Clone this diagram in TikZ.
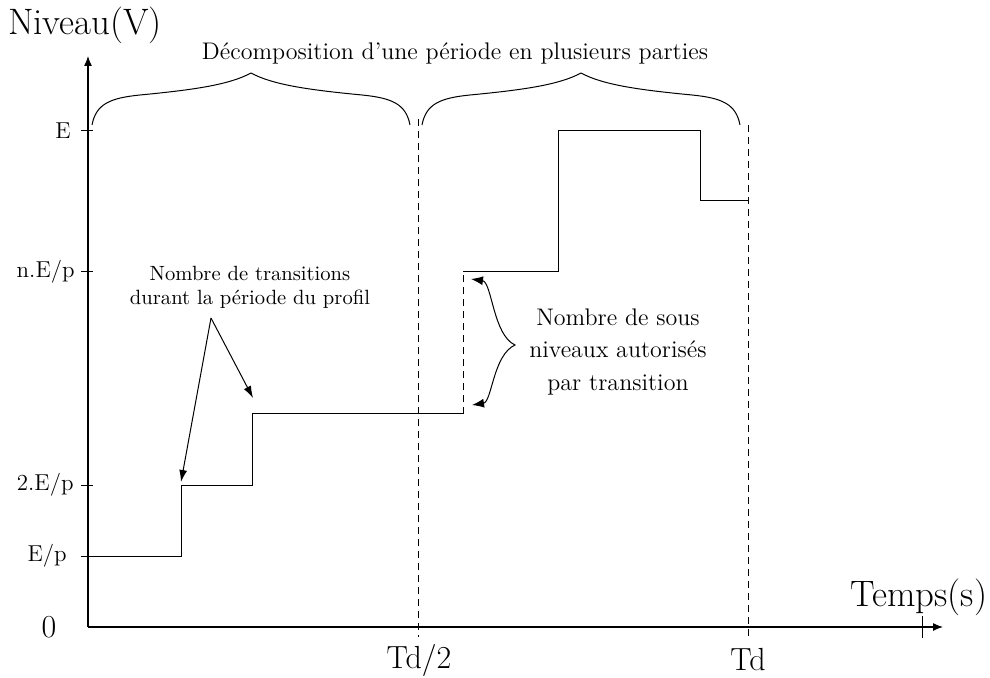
\documentclass[tikz,border=0pt]{standalone}
\usepackage{fontspec}
\usetikzlibrary{arrows.meta}
\begin{document}
\begin{tikzpicture}[x=0.5pt,y=-0.5pt,
  axis/.style={line width=0.6pt, -{Latex[length=5pt,width=4pt]}},
  wave/.style={line width=0.5pt},
  guide/.style={line width=0.5pt, dash pattern=on 3.5pt off 2.5pt},
  tickmark/.style={line width=0.5pt},
  big/.style={font=\fontsize{16}{19}\selectfont, inner sep=0pt},
  huge/.style={font=\fontsize{18.4}{22}\selectfont, inner sep=0pt},
  lvl/.style={font=\fontsize{11.5}{14}\selectfont, inner sep=0pt, anchor=east},
  note/.style={-{Latex[length=6pt,width=4pt]}, line width=0.5pt},
  bracestyle/.style={line width=0.5pt},
  halfbrace/.pic={\draw[bracestyle] (0,0) .. controls (4,-21) and (18,-27) .. (48,-30) .. controls (100,-35) and (137,-40) .. (159,-52);}
]
\useasboundingbox (0,0) rectangle (990,678);

% axes
\coordinate (O) at (88,627);
\coordinate (ytop) at (88,56);
\coordinate (xend) at (943,627);
\draw[axis] (O) -- (ytop);
\draw[axis] (O) -- (xend);
\draw[tickmark] (922,616) -- (922,638);

% axis labels
\node[huge] (ylab) at (85,25) {Niveau(V)};
\node[huge] (xlab) at (919,597) {Temps(s)};
\node[big] (zero) at (49,627) {0};
\node[big] (thalf) at (419,660) {Td/2};
\node[big] (tfull) at (748,660) {Td};

% level ticks and labels
\node[lvl] (lE) at (71,131) {E};
\node[lvl] (lnE) at (75,272) {n.E/p};
\node[lvl] (l2E) at (74,485) {2.E/p};
\node[lvl] (l1E) at (67,556) {E/p};
\draw[tickmark] (81,131) -- (93,131);
\draw[tickmark] (81,272) -- (93,272);
\draw[tickmark] (81,485) -- (93,485);
\draw[tickmark] (81,556) -- (88,556);

% dashed guides
\draw[guide] (418,119) -- (418,637);
\draw[guide] (748,125) -- (748,637);

% waveform
\draw[wave] (88,556) -- (181,556) -- (181,485) -- (252,485) -- (252,414) -- (463,414);
\draw[guide] (463,414) -- (463,272);
\draw[wave] (463,272) -- (558,272) -- (558,131) -- (700,131) -- (700,201) -- (748,201);

% braces
\pic at (92,125) {halfbrace};
\pic[xscale=-1] at (410,125) {halfbrace};
\pic at (422,125) {halfbrace};
\pic[xscale=-1] at (740,125) {halfbrace};
\node[font=\fontsize{12}{14}\selectfont, inner sep=0pt] (title) at (455,53) {Décomposition d’une période en plusieurs parties};

% left annotation
\node[font=\fontsize{10.3}{12}\selectfont, align=center, inner sep=0pt] (trans) at (250,287) {Nombre de transitions\\durant la période du profil};
\coordinate (tail) at (211,318);
\coordinate (tipA) at (181,482);
\coordinate (tipB) at (253,398);
\draw[note] (tail) -- (tipA);
\draw[note] (tail) -- (tipB);

% right annotation
\node[font=\fontsize{12}{16.25}\selectfont, align=center, inner sep=0pt] (sous) at (618,352) {Nombre de sous\\niveaux autorisés\\par transition};
\coordinate (c1) at (471,279);
\coordinate (cm) at (515,345);
\coordinate (c2) at (472,405);
\draw[line width=0.5pt, {Latex[length=6pt,width=4.5pt]}-{Latex[length=6pt,width=4.5pt]}] (c1) .. controls (492,282) and (493,335) .. (cm) .. controls (493,355) and (492,402) .. (c2);
\end{tikzpicture}
\end{document}
